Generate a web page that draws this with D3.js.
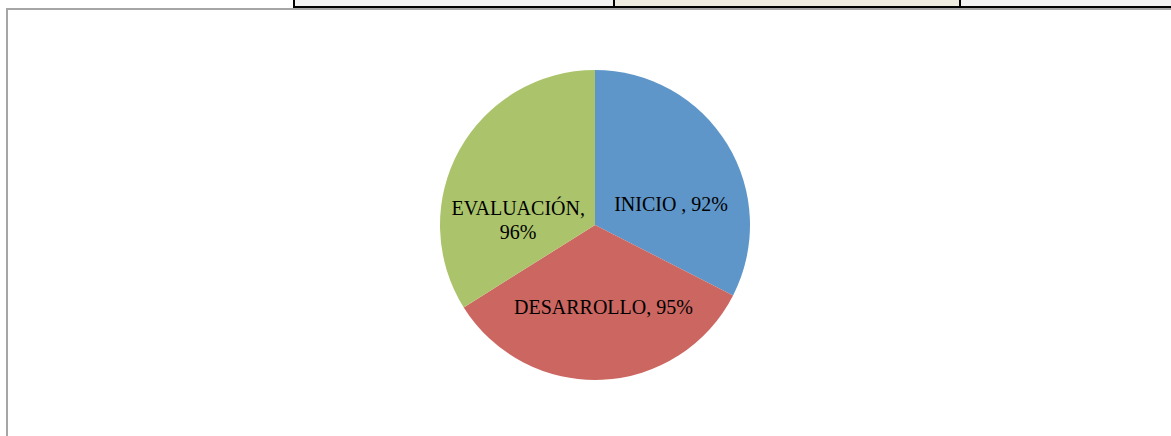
<!DOCTYPE html>
<html>
<head>
<meta charset="utf-8">
<script src="https://cdn.jsdelivr.net/npm/d3@7"></script>
<style>
  body { margin: 0; background: #fff; }
  svg { display: block; }
  .label { font-family: "Liberation Serif", "Times New Roman", serif; font-size: 20px; fill: #000; }
</style>
</head>
<body>
<div id="chart"></div>
<script>
// data
const categories = ["INICIO", "DESARROLLO", "EVALUACIÓN"];
const values = [92, 95, 96];
const labelLines = [["INICIO , 92%"], ["DESARROLLO, 95%"], ["EVALUACIÓN,", "96%"]];
const colors = ["#5f96c9", "#cc6660", "#abc46c"];

// nudges for the label boxes (Excel "best fit" placement)
const labelNudge = [[10, 19], [5, 5], [-9, 33]];

// table cells of the page above the chart
const cellEdges = [0, 294, 614, 960, 1171];
const cellFills = ["#ffffff", "#f2f2f2", "#eeece1", "#f2f2f2"];

const width = 1171, height = 436;
const cx = 595, cy = 225, radius = 155;

const svg = d3.select("#chart").append("svg")
    .attr("width", width)
    .attr("height", height);

// strip of the table above
const cells = d3.range(cellFills.length).map(i => ({x0: cellEdges[i], x1: cellEdges[i + 1], fill: cellFills[i]}));
svg.selectAll(".cell")
    .data(cells)
    .join("rect")
    .attr("class", "cell")
    .attr("x", d => d.x0)
    .attr("y", 0)
    .attr("width", d => d.x1 - d.x0)
    .attr("height", 7)
    .attr("fill", d => d.fill);

svg.append("line")
    .attr("x1", 293).attr("x2", width)
    .attr("y1", 7).attr("y2", 7)
    .attr("stroke", "#000").attr("stroke-width", 2);

svg.selectAll(".cellLine")
    .data(cellEdges.slice(1, 4))
    .join("line")
    .attr("class", "cellLine")
    .attr("x1", d => d).attr("x2", d => d)
    .attr("y1", 0).attr("y2", 7)
    .attr("stroke", "#000").attr("stroke-width", 2);

// chart frame
svg.append("rect")
    .attr("x", 7).attr("y", 9)
    .attr("width", width + 10).attr("height", height + 10)
    .attr("fill", "#fff")
    .attr("stroke", "#a6a6a6")
    .attr("stroke-width", 2);

const pie = d3.pie().sort(null).value(d => d);
const arcs = pie(values);

const arc = d3.arc().innerRadius(0).outerRadius(radius);
const labelArc = d3.arc().innerRadius(radius * 0.5).outerRadius(radius * 0.5);

const g = svg.append("g")
    .attr("transform", `translate(${cx},${cy})`);

g.selectAll(".slice")
    .data(arcs)
    .join("path")
    .attr("class", "slice")
    .attr("d", arc)
    .attr("fill", (d, i) => colors[i]);

const labels = g.selectAll(".label")
    .data(arcs)
    .join("text")
    .attr("class", "label")
    .attr("text-anchor", "middle")
    .attr("transform", (d, i) => {
        const c = labelArc.centroid(d);
        return `translate(${c[0] + labelNudge[i][0]},${c[1] + labelNudge[i][1]})`;
    });

labels.each(function(d, i) {
    const lines = labelLines[i];
    const t = d3.select(this);
    lines.forEach((line, j) => {
        t.append("tspan")
            .attr("x", 0)
            .attr("y", (j - (lines.length - 1) / 2) * 24 + 7)
            .text(line);
    });
});
</script>
</body>
</html>
